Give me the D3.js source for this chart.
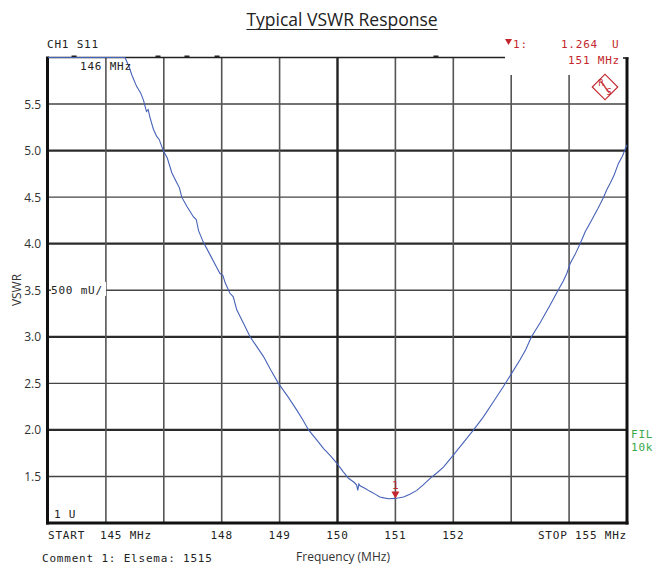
<!DOCTYPE html>
<html><head><meta charset="utf-8">
<script src="https://cdn.jsdelivr.net/npm/d3@7"></script>
<style>
html,body{margin:0;padding:0;background:#fff;}
svg{display:block;}
.mono{font-family:"DejaVu Sans Mono",monospace;font-size:11px;letter-spacing:0.8px;white-space:pre;}
.sans{font-family:"Open Sans",sans-serif;}
</style>
</head><body>
<script>
// ---- data ----
const freqMHz = [145.0,146.33,146.40,146.45,146.53,146.60,146.65,146.70,146.73,146.76,146.82,146.88,146.92,146.99,147.06,147.14,147.22,147.27,147.31,147.40,147.51,147.56,147.60,147.68,147.80,147.91,147.97,148.02,148.06,148.14,148.20,148.26,148.38,148.49,148.60,148.72,148.85,148.98,149.14,149.30,149.40,149.50,149.63,149.76,149.88,149.99,150.10,150.19,150.28,150.33,150.35,150.37,150.39,150.48,150.56,150.65,150.73,150.80,150.88,151.0,151.14,151.25,151.37,151.48,151.60,151.72,151.83,152.00,152.17,152.35,152.52,152.69,152.86,153.01,153.15,153.25,153.35,153.50,153.58,153.67,153.81,153.90,153.96,154.02,154.10,154.19,154.28,154.36,154.43,154.50,154.59,154.65,154.71,154.78,154.85,154.92,154.97,155.0];
const vswr    = [6.0,6.0,5.9,5.81,5.69,5.62,5.54,5.42,5.44,5.36,5.23,5.15,5.12,5.0,4.92,4.76,4.66,4.60,4.50,4.40,4.29,4.26,4.14,4.02,3.88,3.75,3.68,3.66,3.58,3.47,3.43,3.29,3.14,3.00,2.90,2.79,2.64,2.50,2.36,2.21,2.11,2.00,1.90,1.80,1.72,1.64,1.55,1.48,1.44,1.41,1.35,1.42,1.40,1.37,1.34,1.31,1.28,1.27,1.26,1.264,1.28,1.31,1.35,1.41,1.48,1.54,1.60,1.73,1.86,2.00,2.14,2.30,2.46,2.61,2.75,2.86,3.00,3.15,3.24,3.34,3.50,3.60,3.68,3.79,3.88,4.00,4.13,4.22,4.30,4.38,4.49,4.58,4.65,4.74,4.86,4.94,5.02,5.06];
const yTicks = [1.5,2.0,2.5,3.0,3.5,4.0,4.5,5.0,5.5];
const xGrid  = [146,147,148,149,150,151,152,153,154];
const xTickLabels = [148,149,150,151,152];
const topMarks = [145.45,146.9,147.4,147.92,151.7];
const markerFreq = 151, markerVswr = 1.264;

const W=654,H=565;
const svg=d3.select("body").append("svg").attr("width",W).attr("height",H);
const x=d3.scaleLinear().domain([145,155]).range([48,627]);
const y=d3.scaleLinear().domain([1,6]).range([523,57.5]).clamp(true);
const L=x(145),R=x(155),T=y(6),B=y(1);

// title
const title=svg.append("text").attr("class","sans").attr("x",342).attr("y",26)
  .attr("text-anchor","middle").attr("font-size",17.5).attr("fill","#222").text("Typical VSWR Response");
const tw=title.node().getComputedTextLength();
svg.append("line").attr("x1",342-tw/2).attr("x2",342+tw/2).attr("y1",29.5).attr("y2",29.5)
  .attr("stroke","#222").attr("stroke-width",1.2);

// horizontal grid
svg.selectAll(".hg").data(yTicks).enter().append("line")
  .attr("x1",L).attr("x2",R).attr("y1",d=>y(d)).attr("y2",d=>y(d))
  .attr("stroke",d=>Number.isInteger(d)?"#2a2a2a":"#444")
  .attr("stroke-width",d=>Number.isInteger(d)?2.2:1.4);
// vertical grid
svg.selectAll(".vg").data(xGrid).enter().append("line")
  .attr("x1",d=>x(d)).attr("x2",d=>x(d)).attr("y1",d=>d>=153?75:T).attr("y2",B)
  .attr("stroke",d=>d===150?"#222":"#555")
  .attr("stroke-width",d=>d===150?2.4:1.6);

// frame
svg.append("line").attr("x1",L).attr("x2",505).attr("y1",T).attr("y2",T).attr("stroke","#222").attr("stroke-width",1.6);
svg.append("line").attr("x1",L-0.5).attr("x2",L-0.5).attr("y1",T-1).attr("y2",B+1.5).attr("stroke","#111").attr("stroke-width",3);
svg.append("line").attr("x1",L-2).attr("x2",R+1.5).attr("y1",B).attr("y2",B).attr("stroke","#111").attr("stroke-width",3);
svg.append("line").attr("x1",R).attr("x2",R).attr("y1",T).attr("y2",B+1.5).attr("stroke","#111").attr("stroke-width",3);
svg.append("line").attr("x1",R-4).attr("x2",R+1.5).attr("y1",T+0.5).attr("y2",T+0.5).attr("stroke","#111").attr("stroke-width",1.5);
// small marks on top edge
svg.selectAll(".tm").data(topMarks).enter().append("rect")
  .attr("x",d=>x(d)-2.5).attr("y",T-2).attr("width",5).attr("height",2).attr("fill","#222");

// 500 mU/ label with white background
svg.append("rect").attr("x",51).attr("y",282).attr("width",55).attr("height",14).attr("fill","#fff");
svg.append("text").attr("class","mono").attr("x",51).attr("y",294).attr("fill","#222").text("500 mU/");

// trace
const line=d3.line().x((d,i)=>x(freqMHz[i])).y(d=>y(d));
svg.append("path").datum(vswr).attr("d",line).attr("fill","none")
  .attr("stroke","#4662b8").attr("stroke-width",1.1);

// marker
const red="#c4262e";
const mx=x(markerFreq),my=y(markerVswr);
svg.append("path").attr("d",`M${mx-4},${my-7}L${mx+4},${my-7}L${mx},${my}Z`).attr("fill",red);
svg.append("text").attr("class","mono").attr("x",mx).attr("y",my-9).attr("text-anchor","middle")
  .attr("font-size",9).attr("fill",red).style("letter-spacing","0px").text("1");

// texts
svg.append("text").attr("class","mono").attr("x",47).attr("y",48).attr("fill","#222").text("CH1 S11");
svg.append("text").attr("class","mono").attr("x",80).attr("y",70).attr("fill","#222").text("146 MHz");
svg.append("text").attr("class","mono").attr("x",54).attr("y",518).attr("fill","#222").text("1 U");

// y labels
svg.selectAll(".yl").data(yTicks).enter().append("text").attr("class","sans")
  .attr("x",41).attr("y",d=>y(d)+4.5).attr("text-anchor","end").attr("font-size",12).attr("fill","#333")
  .text(d=>d.toFixed(1));
svg.append("text").attr("class","sans").attr("transform","translate(21,290) rotate(-90)")
  .attr("text-anchor","middle").attr("font-size",12).attr("fill","#333").text("VSWR");

// x labels
svg.selectAll(".xl").data(xTickLabels).enter().append("text").attr("class","mono")
  .attr("x",d=>x(d)).attr("y",539).attr("text-anchor","middle").attr("fill","#222").text(d=>d);
svg.append("text").attr("class","mono").attr("x",48).attr("y",539).attr("fill","#222").text("START");
svg.append("text").attr("class","mono").attr("x",100).attr("y",539).attr("fill","#222").text("145 MHz");
svg.append("text").attr("class","mono").attr("x",627).attr("y",539).attr("text-anchor","end").attr("fill","#222").text("STOP 155 MHz");
svg.append("text").attr("class","mono").attr("x",42).attr("y",562).attr("fill","#222").text("Comment 1: Elsema: 1515");
svg.append("text").attr("class","sans").attr("x",343).attr("y",561).attr("text-anchor","middle")
  .attr("font-size",12).attr("fill","#333").text("Frequency (MHz)");

// marker readout (red)
svg.append("path").attr("d","M505,39L512,39L508.5,45Z").attr("fill",red);
svg.append("text").attr("class","mono").attr("x",513).attr("y",48).attr("fill",red).text("1:");
svg.append("text").attr("class","mono").attr("x",598).attr("y",48).attr("text-anchor","end").attr("fill",red).text("1.264");
svg.append("text").attr("class","mono").attr("x",612).attr("y",48).attr("fill",red).text("U");
svg.append("text").attr("class","mono").attr("x",620).attr("y",64).attr("text-anchor","end").attr("fill",red).text("151 MHz");
// R&S logo
const lg=svg.append("g").attr("transform","translate(605,87)");
lg.append("rect").attr("x",-9).attr("y",-9).attr("width",18).attr("height",18).attr("transform","rotate(45)")
  .attr("fill","none").attr("stroke",red).attr("stroke-width",1.2);
[-1.5,0,1.5].forEach(o=>lg.append("line").attr("x1",-4+o).attr("y1",-6+o).attr("x2",4+o).attr("y2",6+o)
  .attr("stroke",red).attr("stroke-width",0.7));
lg.append("text").attr("x",-4).attr("y",-1).attr("text-anchor","middle").attr("font-family","DejaVu Sans")
  .attr("font-size",8).attr("fill",red).text("R");
lg.append("text").attr("x",4).attr("y",8).attr("text-anchor","middle").attr("font-family","DejaVu Sans")
  .attr("font-size",8).attr("fill",red).text("S");

// FIL 10k (green)
svg.append("text").attr("class","mono").attr("x",631).attr("y",438).attr("fill","#3aa84a").text("FIL");
svg.append("text").attr("class","mono").attr("x",631).attr("y",451).attr("fill","#3aa84a").text("10k");
</script>
</body></html>
